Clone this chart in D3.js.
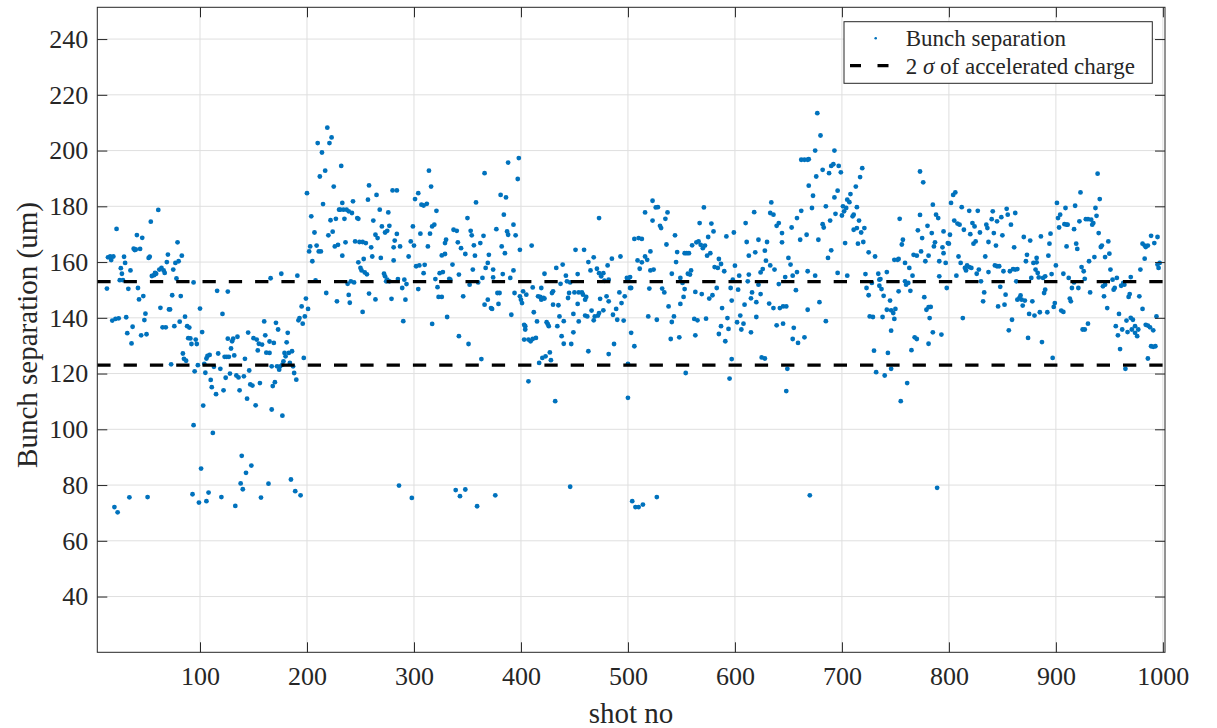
<!DOCTYPE html>
<html>
<head>
<meta charset="utf-8">
<script src="https://cdn.jsdelivr.net/npm/d3@7"></script>
<style>
  html, body { margin: 0; padding: 0; background: #fff; }
  svg { display: block; }
  text { font-family: "Liberation Serif", "Times New Roman", serif; fill: #262626; }
</style>
</head>
<body>
<svg id="chart" width="1217" height="728"></svg>
<script>
// Measured bunch separation per shot: [shot no, separation (um)]
const sep0xx = [[13,150.5],[14,161.7],[16,162],[17,160.7],[19,162],[22,171.9],[18,139],[21,139.6],[24,139.8],[20,72.1],[23,70.2],[26,157.8],[27,155.8],[25,153.5],[28,153.5],[29,161.9],[30,159.7],[33,150.4],[31,140.2],[32,134.5],[34,75.6],[35,157],[36,130.8],[37,136.8],[38,164.8],[39,164.3],[40,164.5],[44,164.7],[41,169.7],[42,150.7],[43,146.6],[47,147.8],[46,168.7],[45,133.7],[48,139.2],[49,141.5],[50,134.1],[51,75.7],[52,161.5],[53,161.9],[54,174.5],[55,155],[57,155.3],[58,156.1],[59,155.8],[61,178.7],[62,157.3],[64,157.9],[66,157],[67,156.1],[63,143.6],[65,136.6],[68,136.6],[69,160],[70,162.7],[71,143],[72,143],[73,123.3],[74,148.1],[75,157.3],[76,137],[77,159.7],[80,160.3],[78,154.1],[79,167.1],[81,138.6],[82,147.8],[83,162.3],[84,127.2],[85,125.3],[87,124.6],[86,140.4],[88,137],[90,136.5],[89,132.7],[91,132.6],[92,130.6],[93,76.7],[94,152.7],[95,120.8],[96,132.2],[97,130.6],[98,123],[94,101.5],[99,73.7]];
const sep1xx = [[100,143.3],[101,85.9],[102,134.9],[103,108.5],[104,123.5],[105,120.3],[106,74.2],[106,125.4],[107,126.3],[109,126.7],[108,77.3],[110,117.7],[111,115.1],[112,98.7],[113,122.4],[115,112.6],[116,149.7],[117,127.2],[119,121.7],[120,75.7],[121,141.4],[122,114],[123,126],[125,126],[127,126],[124,118.5],[126,132.5],[126,149.4],[128,120],[130,131.6],[131,132.5],[129,129],[132,126.5],[133,72.5],[134,119.3],[136,118.6],[135,133.2],[137,114],[139,90.5],[138,80.6],[140,78.5],[142,125.3],[141,119],[143,84.4],[144,111],[145,134.7],[146,121.1],[147,116.1],[149,115.7],[148,87],[150,132.7],[153,132.2],[152,108.6],[154,128.3],[155,130.7],[156,116.6],[157,75.5],[158,130.4],[160,138.7],[161,133.7],[162,127.5],[164,80.5],[165,131.5],[166,154.2],[167,107.1],[168,115.5],[171,138.2],[173,135.8],[169,131],[165,127.4],[167,122.6],[172,122.6],[174,121.4],[175,122.6],[177,123.2],[170,116.9],[177,104.9],[176,155.8],[179,127.4],[180,126.2],[183,127.4],[186,128],[181,131.2],[182,134.6],[178,124.4],[184,123.8],[187,122.6],[188,120.2],[190,117.8],[185,82],[189,77.8],[194,76.3],[191,155.1],[192,139.1],[193,139.9],[196,137.9],[195,144.1],[197,125.6],[198,140.5],[199,146.9]];
const sep2xx = [[201,143.2],[200,184.7],[202,163.8],[203,165.6],[204,176.4],[205,160.3],[207,170.6],[208,153.4],[209,165.9],[211,163.8],[213,163.8],[212,190.7],[210,202.7],[214,199.3],[215,180.8],[217,192.8],[218,148.9],[219,208.2],[221,202.7],[223,204.7],[220,169.6],[222,175],[224,170.9],[225,187.1],[226,165.6],[229,166.2],[227,175.5],[230,178.8],[231,178.8],[234,178.8],[228,145.9],[232,194.5],[233,162.3],[235,175.5],[236,167.1],[233,181.2],[237,178.8],[239,178.2],[242,177.6],[239,148.2],[240,145.4],[241,153.1],[238,152.2],[243,181.8],[244,152.7],[245,167.4],[249,167.2],[252,167.2],[255,166.8],[247,175.8],[248,175.5],[248,159.9],[250,157.9],[251,157],[254,156.3],[256,155.6],[252,142.1],[253,161.1],[257,182.4],[258,187.5],[260,165.3],[258,148.7],[261,162],[262,174.9],[264,146.6],[264,169.8],[266,168.6],[265,184.1],[268,178.8],[269,161.5],[270,172.8],[273,170.6],[272,155.8],[273,154.9],[274,153.1],[275,153.7],[277,153.1],[275,171.2],[277,173],[276,177.8],[279,146.8],[280,185.7],[284,185.7],[281,160.6],[282,167.7],[284,170.1],[281,165.3],[287,165.6],[285,153.9],[289,150.7],[290,138.8],[286,79.8],[291,153.7],[293,152.1],[292,146.5],[295,162],[297,167.4],[298,75.4],[299,172.8]];
const sep3xx = [[300,165.9],[301,182.6],[304,184.7],[302,158.5],[305,158.8],[304,150.3],[306,170.2],[307,180.6],[309,180.3],[312,180.9],[309,156],[310,159],[313,165.6],[314,192.8],[315,170.2],[317,172.8],[319,173.4],[316,187.1],[317,137.8],[320,153.9],[321,178.4],[322,151],[323,147.5],[326,147.5],[324,156],[327,156.4],[326,162.4],[329,162.9],[330,168],[329,166.8],[331,140.3],[333,154],[334,153.7],[336,159.1],[337,171.6],[340,171.2],[341,167.1],[342,133.4],[342,155.5],[339,78.2],[343,76],[348,78.4],[344,165],[346,147.7],[348,162.9],[350,175.8],[351,130.6],[352,151.9],[353,171.2],[354,169.6],[355,157.3],[356,166],[357,162.3],[358,181.4],[359,72.4],[360,152.7],[362,166.8],[363,125.2],[364,154.3],[365,169.4],[366,191.9],[366,144.7],[369,146.5],[372,143.5],[367,157.9],[369,159.7],[370,162.6],[373,143.2],[374,157.3],[374,154.5],[376,76.3],[377,171.8],[378,148.9],[380,148.9],[379,145],[381,184.1],[382,165.6],[383,155.7],[384,177],[385,163.2],[386,183.2],[387,171],[388,169.8],[388,195.7],[390,154.3],[391,141.1],[393,173.4],[393,157],[394,148.9],[395,169.6],[397,189.8],[398,197.3],[399,164.4],[399,147.7]];
const sep4xx = [[400,146.5],[401,145.3],[402,149.5],[405,148.3],[403,137.5],[404,135.8],[404,137],[403,132.2],[407,132.2],[409,131.6],[411,132.4],[414,132.8],[407,117.2],[410,165.9],[411,150.9],[412,142],[415,138.7],[416,147.7],[418,147.5],[419,146.5],[421,147.1],[422,146.9],[419,150.7],[422,155.8],[417,123.8],[420,125.6],[423,126.2],[427,127.6],[428,124.8],[424,138.4],[426,137],[425,137.8],[429,148.9],[430,149.5],[430,144.7],[435,144.5],[432,110.1],[433,157.9],[434,137],[436,140.5],[437,152.2],[438,133.4],[439,159.1],[440,138.8],[440,130.7],[442,155.1],[443,153.1],[446,152.7],[444,147.1],[445,148.9],[446,79.4],[447,130.6],[449,134.8],[449,141.4],[450,149.1],[454,149.1],[457,149.1],[451,164.4],[459,164.4],[453,145],[453,155.7],[454,138.7],[458,148.3],[460,146.5],[461,147.5],[460,140.8],[462,140.5],[463,128],[463,160],[465,157],[466,142.6],[468,139.1],[469,140.5],[472,140.8],[473,141.7],[468,161.7],[471,157.6],[473,175.8],[473,156],[475,154.9],[477,156],[474,146.8],[477,142.7],[478,153.3],[482,153.7],[481,158.8],[480,147.7],[482,145.9],[482,127],[485,161.2],[486,141.1],[487,130.6],[489,143.2],[490,139.3],[492,149.1],[493,162],[494,145.3],[496,139],[497,147.7],[499,154.3],[500,153.7],[500,111.3]];
const sep5xx = [[502,150.7],[502,154.6],[503,150.7],[503,134.6],[506,129.8],[500,123.5],[504,74.2],[507,72.1],[510,72.1],[514,73],[527,75.7],[506,168.3],[510,168.6],[513,168.3],[509,160.6],[511,157.6],[513,159.9],[516,177.8],[516,162],[518,160.8],[519,140.5],[520,150.5],[521,157],[524,157.3],[521,163.8],[523,182],[523,174.9],[526,179.6],[528,179.7],[527,139.3],[530,173],[531,172.2],[532,150.5],[534,149.1],[535,175.5],[536,166.3],[537,177.8],[538,144.1],[540,132.4],[541,155.8],[541,138.5],[543,140.5],[544,169.6],[545,160],[546,163.6],[548,133],[549,154.3],[549,145],[551,152.5],[553,150.3],[552,147.5],[553,163.2],[555,163.2],[557,163.2],[554,120.2],[556,155.8],[558,155.5],[559,157],[560,166],[562,139.6],[565,139.1],[563,149.3],[563,133.7],[564,167.1],[566,167.4],[568,166.2],[570,165],[572,165.9],[567,174],[569,148.5],[571,179.6],[573,139.7],[574,162.3],[577,163.2],[575,169],[576,146.9],[579,148.1],[578,173.8],[580,171],[581,158.2],[584,157.9],[583,150.7],[585,134.2],[585,161.1],[587,159.3],[587,137],[588,143.5],[590,156.7],[591,131.6],[592,169.2],[593,139.9],[594,136],[595,118.2],[596,150.7],[598,153.7],[597,125.2],[597,146.2],[599,170.6]];
const sep6xx = [[600,158.7],[602,138.4],[603,150.1],[604,155.1],[605,140.8],[606,135.8],[608,137.9],[609,144.7],[610,174],[611,167.2],[612,153.1],[613,155.5],[613,162.3],[615,147],[615,134.8],[616,149.1],[618,177.9],[619,163.5],[620,140.3],[620,145.6],[622,151.9],[622,168],[624,156.3],[626,157.5],[624,148.5],[625,125.8],[628,125.4],[628,164.1],[629,160.5],[630,167.2],[632,145.1],[633,177.6],[634,181.4],[636,177],[633,158.8],[636,143.5],[637,157.3],[639,137.3],[639,173],[641,174],[641,152.1],[642,143.5],[645,144.1],[648,144.1],[644,170.4],[644,167.1],[645,137.9],[647,154.6],[648,113.7],[649,121.7],[650,161.5],[652,159.1],[653,172.4],[654,155.1],[654,132.4],[659,131],[655,136.4],[657,149.9],[658,175.8],[658,156.4],[661,168],[662,178.4],[662,196.7],[665,196.7],[668,196.7],[665,133],[667,169.8],[668,142.9],[668,156.7],[669,187.4],[670,76.3],[669,196.9],[675,155.1],[673,183.8],[672,179.4],[675,200],[677,213.4],[676,190.7],[680,205.4],[678,168],[679,145.6],[682,193.1],[682,173.6],[683,172.4],[685,180],[685,138.8],[687,161.5],[688,191.9],[689,174.9],[690,164.2],[690,194.5],[692,195.1],[693,183.2],[693,200],[694,177.3],[696,185.6],[696,156.1],[697,194.5],[699,192.2]];
const sep7xx = [[700,176.7],[702,178.2],[704,179.4],[705,182.4],[707,181.5],[701,180],[703,166.8],[705,155.1],[708,184.4],[710,176.4],[711,177],[711,171.6],[714,172.2],[713,187.1],[714,179.7],[715,166.6],[716,174.9],[717,190.5],[718,170.6],[719,193.7],[720,167.2],[721,172.2],[722,155.7],[723,150.7],[725,163.5],[725,148.1],[726,140.5],[729,140.3],[728,152.5],[730,128.2],[731,162],[732,120.5],[734,155.8],[735,153.7],[735,151.5],[737,150.3],[739,147.9],[736,153.9],[738,140.3],[740,119.3],[742,142.9],[742,156.4],[743,127.4],[745,146.2],[746,142.7],[748,141.7],[749,139.6],[750,143.2],[746,121.7],[746,135.4],[749,160.8],[752,160.8],[753,161.1],[753,149.5],[754,175.5],[755,110.1],[756,166.3],[757,168],[759,153.1],[760,151.9],[762,152.5],[759,159.7],[761,116.6],[763,157.9],[764,149.7],[765,128.4],[766,155.1],[767,162.6],[770,162.3],[768,133],[770,132.4],[771,171.4],[773,192.5],[773,176.9],[774,163.8],[775,168.6],[776,188.6],[777,147.4],[778,160.3],[779,142.9],[781,143.8],[783,143.9],[780,173],[781,162.3],[782,139.9],[781,130.7],[784,170.4],[785,180.6],[785,134.8],[786,165.6],[787,167.1],[788,177],[790,175.8],[789,79],[791,154.9],[791,160.3],[793,134],[794,165.3],[795,163.2],[795,171],[797,159.7],[798,150.7],[799,166.8]];
const sep8xx = [[800,166.6],[801,169.8],[802,181.2],[804,184.1],[806,185],[805,174.9],[807,155.1],[808,173.8],[810,173.4],[809,162],[811,159.7],[812,179.7],[813,139.9],[814,171.6],[815,157.9],[817,158.8],[819,158.2],[821,157.9],[816,157],[819,178.4],[820,170],[822,174],[824,172.8],[823,166.6],[825,167.4],[826,155.8],[827,178.4],[828,157.3],[829,170.6],[830,153.1],[832,145.9],[833,149.1],[834,162],[835,173.4],[836,172.2],[837,156.4],[837,167.2],[840,175.4],[841,178.2],[842,170.4],[843,158.8],[845,158.5],[847,158.5],[844,165.9],[845,174.6],[846,144.1],[848,151.1],[849,176.1],[850,169.6],[851,156.7],[852,144.7],[853,148.3],[854,179.1],[855,177],[856,135.5],[857,156.7],[860,157.5],[862,157.3],[864,157.5],[858,173.4],[859,139.3],[861,165.3],[862,177.6],[863,153.1],[864,146.5],[866,147.1],[868,146.5],[871,146.2],[867,148],[869,144.4],[870,169],[873,162.6],[872,160.3],[874,132.8],[875,141.4],[876,167.7],[877,154.3],[878,145.9],[879,159.7],[882,159.9],[880,140.8],[881,157.3],[882,161.5],[883,156.1],[884,154.5],[885,142],[886,169.2],[887,131.3],[888,154.3],[889,148.9],[890,150.1],[890,154.9],[892,142],[893,162.3],[894,166.6],[895,170.2],[896,155.7],[897,125.6],[898,143.9],[899,145.3]];
const sep9xx = [[900,158.8],[901,181.2],[902,175.8],[903,172.4],[904,177],[905,142.6],[907,142.1],[907,155.8],[909,179.4],[908,173.6],[910,173.4],[911,173.4],[910,165.6],[912,154.3],[913,146.9],[914,145.9],[915,150.7],[917,152.7],[918,180.2],[917,171.8],[919,166.6],[920,164.7],[921,150.7],[922,174.6],[923,185],[924,158.2],[926,156.7],[927,154],[925,135.8],[927,135.8],[930,137.9],[928,175.4],[930,175.4],[931,160.3],[932,149.1],[933,175.2],[934,173.4],[935,174],[936,161.8],[937,179.4],[938,176.6],[939,191.7],[940,170.4],[941,182.6],[942,165.4],[943,165.9],[944,151.3],[945,147.7],[946,151.9],[946,161.8],[948,143.5],[949,167.4],[950,163],[951,157.3],[953,153.7],[954,150.1],[955,150.7],[957,154.3],[956,137],[958,133.7],[959,141.4],[960,128.8],[961,151.5],[963,152.5],[964,151.9],[962,135.8],[965,121.7],[966,139],[967,134.9],[968,147.5],[969,148.5],[970,154.6],[970,140],[972,139.3],[971,135.8],[974,137],[974,134.6],[976,133.4],[977,135.8],[978,147.7],[979,157.3],[981,143.2],[981,166.6],[983,165.9],[984,165.4],[986,165.9],[983,161.2],[984,137.5],[986,137.2],[988,136.6],[986,125.4],[989,169.4],[992,166.8],[995,169],[989,129.8],[991,129.6],[993,129.8],[991,135.5],[994,140.5],[995,159.1],[996,157.9],[997,159.7]];

// 2 sigma band of the accelerated charge (um)
const sigmaBounds = [123, 153];

const xTicks = [100, 200, 300, 400, 500, 600, 700, 800, 900, 1000];
const yTicks = [40, 60, 80, 100, 120, 140, 160, 180, 200, 220, 240];
const xLimits = [4, 1002];
const yLimits = [20, 251.4];

const xLabel = "shot no";
const yLabel = "Bunch separation (um)";
const legendScatter = "Bunch separation";

const points = [].concat(sep0xx, sep1xx, sep2xx, sep3xx, sep4xx, sep5xx, sep6xx, sep7xx, sep8xx, sep9xx);

// ---- layout ----
const plot = { left: 97.3, top: 7.3, right: 1165, bottom: 652.3 };
const axisColor = "#262626";
const gridColor = "#dfdfdf";
const dotColor = "#0072BD";
const tickLen = 10;
const fontSize = 26;
const labelSize = 29;

const svg = d3.select("#chart");

const x = d3.scaleLinear().domain(xLimits).range([plot.left, plot.right]);
const y = d3.scaleLinear().domain(yLimits).range([plot.bottom, plot.top]);

// grid
const grid = svg.append("g").attr("stroke", gridColor).attr("stroke-width", 1);
grid.selectAll("line.gx").data(xTicks).join("line")
  .attr("x1", d => x(d)).attr("x2", d => x(d))
  .attr("y1", plot.top).attr("y2", plot.bottom);
grid.selectAll("line.gy").data(yTicks).join("line")
  .attr("x1", plot.left).attr("x2", plot.right)
  .attr("y1", d => y(d)).attr("y2", d => y(d));

// scatter
svg.append("g").selectAll("circle").data(points).join("circle")
  .attr("cx", d => x(d[0]))
  .attr("cy", d => y(d[1]))
  .attr("r", 2.4)
  .attr("fill", dotColor);

// 2 sigma dashed lines
svg.append("g").selectAll("line").data(sigmaBounds).join("line")
  .attr("x1", plot.left).attr("x2", plot.right)
  .attr("y1", d => y(d)).attr("y2", d => y(d))
  .attr("stroke", "#000")
  .attr("stroke-width", 3.2)
  .attr("stroke-dasharray", "13.3,13");

// axes (ticks inward on all four sides)
const intFmt = d3.format("d");
const axisBottom = d3.axisBottom(x).tickValues(xTicks).tickFormat(intFmt).tickSizeInner(-tickLen).tickSizeOuter(0).tickPadding(14);
const axisTop = d3.axisTop(x).tickValues(xTicks).tickSizeInner(-tickLen).tickSizeOuter(0).tickFormat("");
const axisLeft = d3.axisLeft(y).tickValues(yTicks).tickFormat(intFmt).tickSizeInner(-tickLen).tickSizeOuter(0).tickPadding(9);
const axisRight = d3.axisRight(y).tickValues(yTicks).tickSizeInner(-tickLen).tickSizeOuter(0).tickFormat("");

function styleAxis(g) {
  g.select(".domain").remove();
  g.selectAll(".tick line").attr("stroke", axisColor).attr("stroke-width", 1);
  g.selectAll(".tick text")
    .attr("fill", axisColor)
    .style("font-family", '"Liberation Serif", "Times New Roman", serif')
    .style("font-size", fontSize + "px");
}

svg.append("g").attr("transform", `translate(0,${plot.bottom})`).call(axisBottom).call(styleAxis);
svg.append("g").attr("transform", `translate(0,${plot.top})`).call(axisTop).call(styleAxis);
svg.append("g").attr("transform", `translate(${plot.left},0)`).call(axisLeft).call(styleAxis);
svg.append("g").attr("transform", `translate(${plot.right},0)`).call(axisRight).call(styleAxis);

// box
svg.append("rect")
  .attr("x", plot.left).attr("y", plot.top)
  .attr("width", plot.right - plot.left).attr("height", plot.bottom - plot.top)
  .attr("fill", "none").attr("stroke", axisColor).attr("stroke-width", 1);

// axis labels
svg.append("text")
  .attr("x", 631).attr("y", 723)
  .attr("text-anchor", "middle")
  .style("font-size", labelSize + "px")
  .text(xLabel);

svg.append("text")
  .attr("transform", `translate(37,335) rotate(-90)`)
  .attr("text-anchor", "middle")
  .style("font-size", labelSize + "px")
  .text(yLabel);

// legend
const legend = svg.append("g");
legend.append("rect")
  .attr("x", 844).attr("y", 21.7).attr("width", 308.3).attr("height", 61.6)
  .attr("fill", "#fff").attr("stroke", axisColor).attr("stroke-width", 1);
legend.append("circle").attr("cx", 875.7).attr("cy", 38.3).attr("r", 1.3).attr("fill", dotColor);
legend.append("text").attr("x", 905.7).attr("y", 46).style("font-size", "23px").text(legendScatter);
legend.append("line")
  .attr("x1", 850).attr("x2", 889).attr("y1", 65.7).attr("y2", 65.7)
  .attr("stroke", "#000").attr("stroke-width", 3.2).attr("stroke-dasharray", "11,16.5");
const t2 = legend.append("text").attr("x", 905.7).attr("y", 73.5).style("font-size", "23px");
t2.append("tspan").text("2 ");
t2.append("tspan").style("font-style", "italic").text("σ");
t2.append("tspan").text(" of accelerated charge");
</script>
</body>
</html>
